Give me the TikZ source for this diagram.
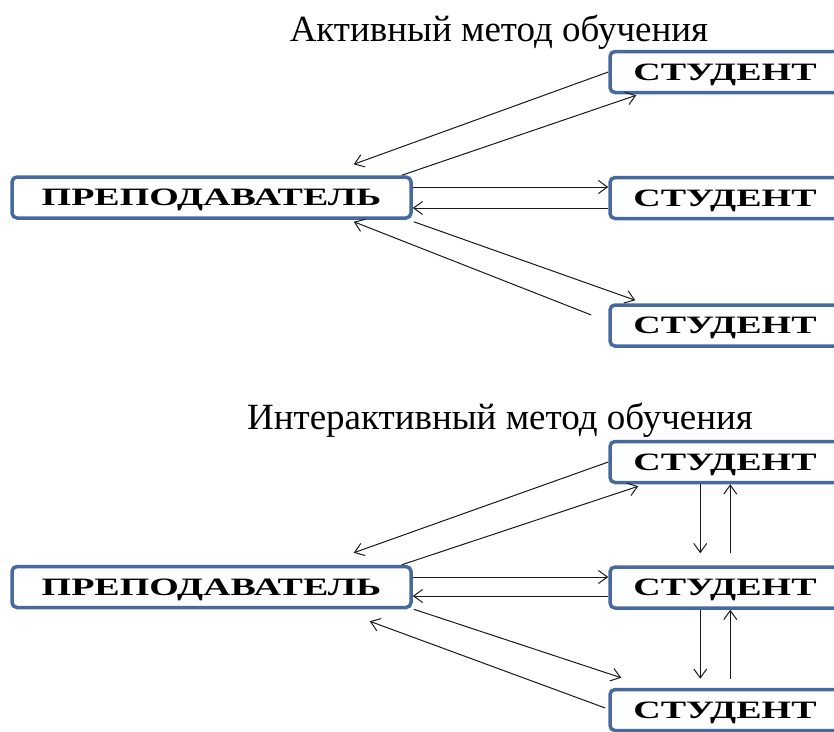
\documentclass[tikz,border=0pt]{standalone}
\usepackage{fontspec}
\usepackage{graphicx}
\setmainfont{Liberation Serif}
\usetikzlibrary{arrows.meta,calc}
\definecolor{boxblue}{HTML}{46699F}
\tikzset{
  pbox/.style={draw=boxblue, line width=3.5pt, rounded corners=5pt, fill=white,
    inner sep=0pt, minimum height=41pt, align=center, text depth=0pt,
    font=\fontsize{25}{25}\selectfont\bfseries},
  tbox/.style={pbox, minimum width=399pt},
  sbox/.style={pbox, minimum width=230pt},
  conn/.style={draw=black!90, line width=1pt,
    -{Straight Barb[length=9pt,width=13pt,line width=1pt]}},
  ttl/.style={font=\fontsize{37}{37}\selectfont, anchor=base, inner sep=0pt}
}
\begin{document}
\begin{tikzpicture}[x=1pt,y=-1pt]
\useasboundingbox (0,0) rectangle (834,731);
\clip (0,0) rectangle (834,731);
\fill[white] (0,0) rectangle (834,731);

% ---- Top diagram ----
\node[ttl] (title1) at (499,41) {Активный метод обучения};
\node[tbox] (t1) at (211.5,197.5) {\scalebox{1.52}[1]{ПРЕПОДАВАТЕЛЬ}};
\node[sbox] (s1) at (725,72) {\scalebox{1.52}[1]{СТУДЕНТ}};
\node[sbox] (s2) at (725,198) {\scalebox{1.52}[1]{СТУДЕНТ}};
\node[sbox] (s3) at (725,325.5) {\scalebox{1.52}[1]{СТУДЕНТ}};

\draw[conn] (s1.west) -- ([xshift=-59pt,yshift=11pt]t1.north east);
\draw[conn] ([xshift=-11pt]t1.north east) -- ([xshift=28pt,yshift=-1pt]s1.south west);
\draw[conn] ([yshift=10.5pt]t1.east) -- ([yshift=11pt]s2.west);
\draw[conn] ([yshift=-10pt]s2.west) -- ([yshift=-10.5pt]t1.east);
\draw[conn] ([xshift=1pt,yshift=-2pt]t1.south east) -- ([xshift=27pt,yshift=3pt]s3.north west);
\draw[conn] ([xshift=-17pt,yshift=10.5pt]s3.west) -- ([xshift=-59pt,yshift=-2pt]t1.south east);

% ---- Bottom diagram ----
\node[ttl] (title2) at (500,429) {Интерактивный метод обучения};
\node[tbox] (t2) at (211.5,587) {\scalebox{1.52}[1]{ПРЕПОДАВАТЕЛЬ}};
\node[sbox] (s4) at (725,462) {\scalebox{1.52}[1]{СТУДЕНТ}};
\node[sbox] (s5) at (725,587.5) {\scalebox{1.52}[1]{СТУДЕНТ}};
\node[sbox] (s6) at (725,710) {\scalebox{1.52}[1]{СТУДЕНТ}};

\draw[conn] (s4.west) -- ([xshift=-59pt,yshift=12pt]t2.north east);
\draw[conn] ([xshift=-11pt]t2.north east) -- ([xshift=30pt,yshift=-2pt]s4.south west);
\draw[conn] ([yshift=10pt]t2.east) -- ([yshift=10.5pt]s5.west);
\draw[conn] ([yshift=-8.5pt]s5.west) -- ([yshift=-9pt]t2.east);
\draw[conn] ([xshift=1pt]t2.south east) -- ([xshift=13pt,yshift=10pt]s6.north west);
\draw[conn] ([xshift=-3pt,yshift=2pt]s6.west) -- ([xshift=-43pt,yshift=-12pt]t2.south east);

\draw[conn] ([xshift=92pt]s4.south west) -- ([xshift=92pt,yshift=12pt]s5.north west);
\draw[conn] ([xshift=122pt,yshift=12pt]s5.north west) -- ([xshift=122pt]s4.south west);
\draw[conn] ([xshift=92pt]s5.south west) -- ([xshift=92pt,yshift=9pt]s6.north west);
\draw[conn] ([xshift=122pt,yshift=9pt]s6.north west) -- ([xshift=122pt]s5.south west);
\end{tikzpicture}
\end{document}
